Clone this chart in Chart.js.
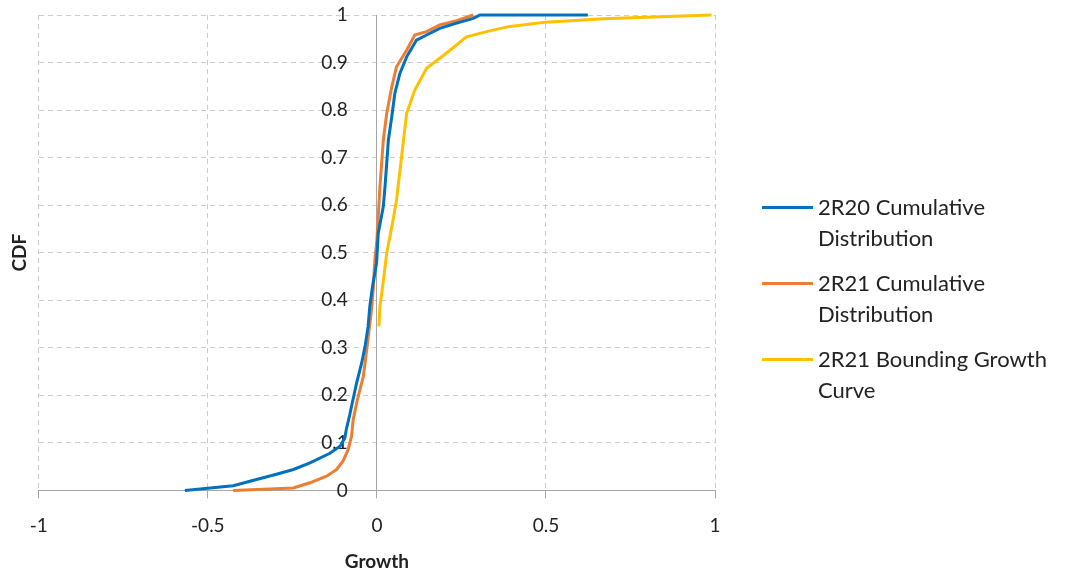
<!DOCTYPE html>
<html>
<head>
<meta charset="utf-8">
<script src="https://cdn.jsdelivr.net/npm/chart.js@4"></script>
<style>
  html, body { margin: 0; padding: 0; background: #fff; }
  #wrap { position: relative; width: 1065px; height: 573px; }
  #legend { position: absolute; left: 762px; top: 191px; font-family: Lato, "Noto Sans", sans-serif; font-size: 22px; color: #222; }
  .item { display: flex; align-items: flex-start; margin-bottom: 14px; }
  .swatch { width: 51px; height: 3px; margin-top: 15px; margin-right: 5px; flex: none; }
  .txt { line-height: 31px; }
</style>
</head>
<body>
<div id="wrap">
  <canvas id="cdf-chart"></canvas>
  <div id="legend"></div>
</div>
<script>
Chart.defaults.font.family = 'Lato, "Noto Sans", sans-serif';
Chart.defaults.font.size = 19;
Chart.defaults.color = '#222';

// series names (legend lines)
const seriesNames = [
    ['2R20 Cumulative', 'Distribution'],
    ['2R21 Cumulative', 'Distribution'],
    ['2R21 Bounding Growth', 'Curve']
];

// 2R20 cumulative distribution
const r20Growth = [-0.568, -0.425, -0.356, -0.297, -0.247, -0.198, -0.139, -0.109, -0.095, -0.09,
    -0.08, -0.075, -0.06, -0.045, -0.035, -0.026, -0.021, -0.013, -0.001, 0.004,
    0.019, 0.024, 0.034, 0.044, 0.053, 0.068, 0.088, 0.117, 0.147, 0.186,
    0.236, 0.285, 0.305, 0.624];
const r20Cdf = [0, 0.01, 0.023, 0.034, 0.044, 0.058, 0.078, 0.093, 0.11, 0.13,
    0.16, 0.177, 0.226, 0.268, 0.303, 0.345, 0.387, 0.429, 0.478, 0.541,
    0.597, 0.639, 0.737, 0.786, 0.835, 0.877, 0.912, 0.947, 0.958, 0.972,
    0.983, 0.993, 1, 1];

// 2R21 cumulative distribution
const r21Growth = [-0.425, -0.247, -0.198, -0.149, -0.119, -0.1, -0.085, -0.075, -0.07, -0.058,
    -0.04, -0.03, -0.023, -0.016, -0.011, -0.006, 0, 0.009, 0.019, 0.029,
    0.044, 0.058, 0.088, 0.112, 0.147, 0.186, 0.236, 0.285];
const r21Cdf = [0, 0.005, 0.016, 0.03, 0.044, 0.062, 0.086, 0.114, 0.149, 0.19,
    0.24, 0.296, 0.338, 0.38, 0.422, 0.485, 0.527, 0.639, 0.737, 0.793,
    0.849, 0.891, 0.926, 0.958, 0.965, 0.979, 0.988, 1];

// 2R21 bounding growth curve
const boundGrowth = [0.006, 0.009, 0.017, 0.029, 0.048, 0.058, 0.088, 0.112, 0.147, 0.206,
    0.265, 0.324, 0.393, 0.5, 0.67, 0.817, 0.99];
const boundCdf = [0.345, 0.387, 0.429, 0.499, 0.569, 0.611, 0.793, 0.842, 0.888, 0.92,
    0.954, 0.965, 0.976, 0.985, 0.992, 0.996, 1];

const toPoints = (xs, ys) => xs.map((x, i) => ({x: x, y: ys[i]}));

const gridColor = '#cccccc';
const axisColor = '#a6a6a6';
const fmt = v => String(+Number(v).toFixed(2));

const cdfData = {
    datasets: [{
        label: seriesNames[0].join(' '),
        data: toPoints(r20Growth, r20Cdf),
        borderColor: '#0070C0'
    }, {
        label: seriesNames[1].join(' '),
        data: toPoints(r21Growth, r21Cdf),
        borderColor: '#ED7D31'
    }, {
        label: seriesNames[2].join(' '),
        data: toPoints(boundGrowth, boundCdf),
        borderColor: '#FFC000'
    }]
};

const cdfConfig = {
    type: 'scatter',
    data: cdfData,
    options: {
        responsive: true,
        maintainAspectRatio: false,
        animation: false,
        showLine: true,
        layout: { padding: { left: 4, right: 350, top: 15, bottom: 0 } },
        elements: {
            point: { radius: 0 },
            line: { borderWidth: 3, tension: 0, fill: false }
        },
        datasets: { scatter: { clip: 6 } },
        plugins: {
            legend: { display: false },
            tooltip: { enabled: false }
        },
        scales: {
            x: {
                type: 'linear',
                min: -1,
                max: 1,
                ticks: { stepSize: 0.5, padding: 16, callback: fmt },
                grid: { color: gridColor, tickColor: axisColor, tickLength: 8 },
                border: { color: axisColor, dash: [5, 4] },
                title: { display: true, text: 'Growth', font: { weight: 'bold' }, padding: { top: -3, bottom: 0 } }
            },
            y: {
                type: 'linear',
                min: 0,
                max: 1,
                ticks: { display: false, stepSize: 0.1 },
                grid: { color: gridColor, drawTicks: false },
                border: { display: false, dash: [5, 4] },
                title: { display: true, text: 'CDF', font: { weight: 'bold' }, padding: { top: 4, bottom: 8 } }
            },
            y2: {
                axis: 'y',
                type: 'linear',
                position: { x: 0 },
                min: 0,
                max: 1,
                // labels sit right-aligned on the axis, trailing spaces push them off it
                ticks: { stepSize: 0.1, padding: 0, callback: v => fmt(v) + '      ' },
                grid: { drawOnChartArea: false, drawTicks: false },
                border: { color: axisColor },
                afterFit: s => { s.paddingTop = 0; s.paddingBottom = 0; }
            }
        }
    }
};

// render chart
const cdfChart = new Chart(
    document.getElementById('cdf-chart'),
    cdfConfig
    );

// legend with wrapped labels
const legendEl = document.getElementById('legend');
cdfData.datasets.forEach((ds, i) => {
    const item = document.createElement('div');
    item.className = 'item';
    const sw = document.createElement('span');
    sw.className = 'swatch';
    sw.style.background = ds.borderColor;
    const txt = document.createElement('span');
    txt.className = 'txt';
    txt.innerHTML = seriesNames[i].join('<br>');
    item.appendChild(sw);
    item.appendChild(txt);
    legendEl.appendChild(item);
});
</script>
</body>
</html>
